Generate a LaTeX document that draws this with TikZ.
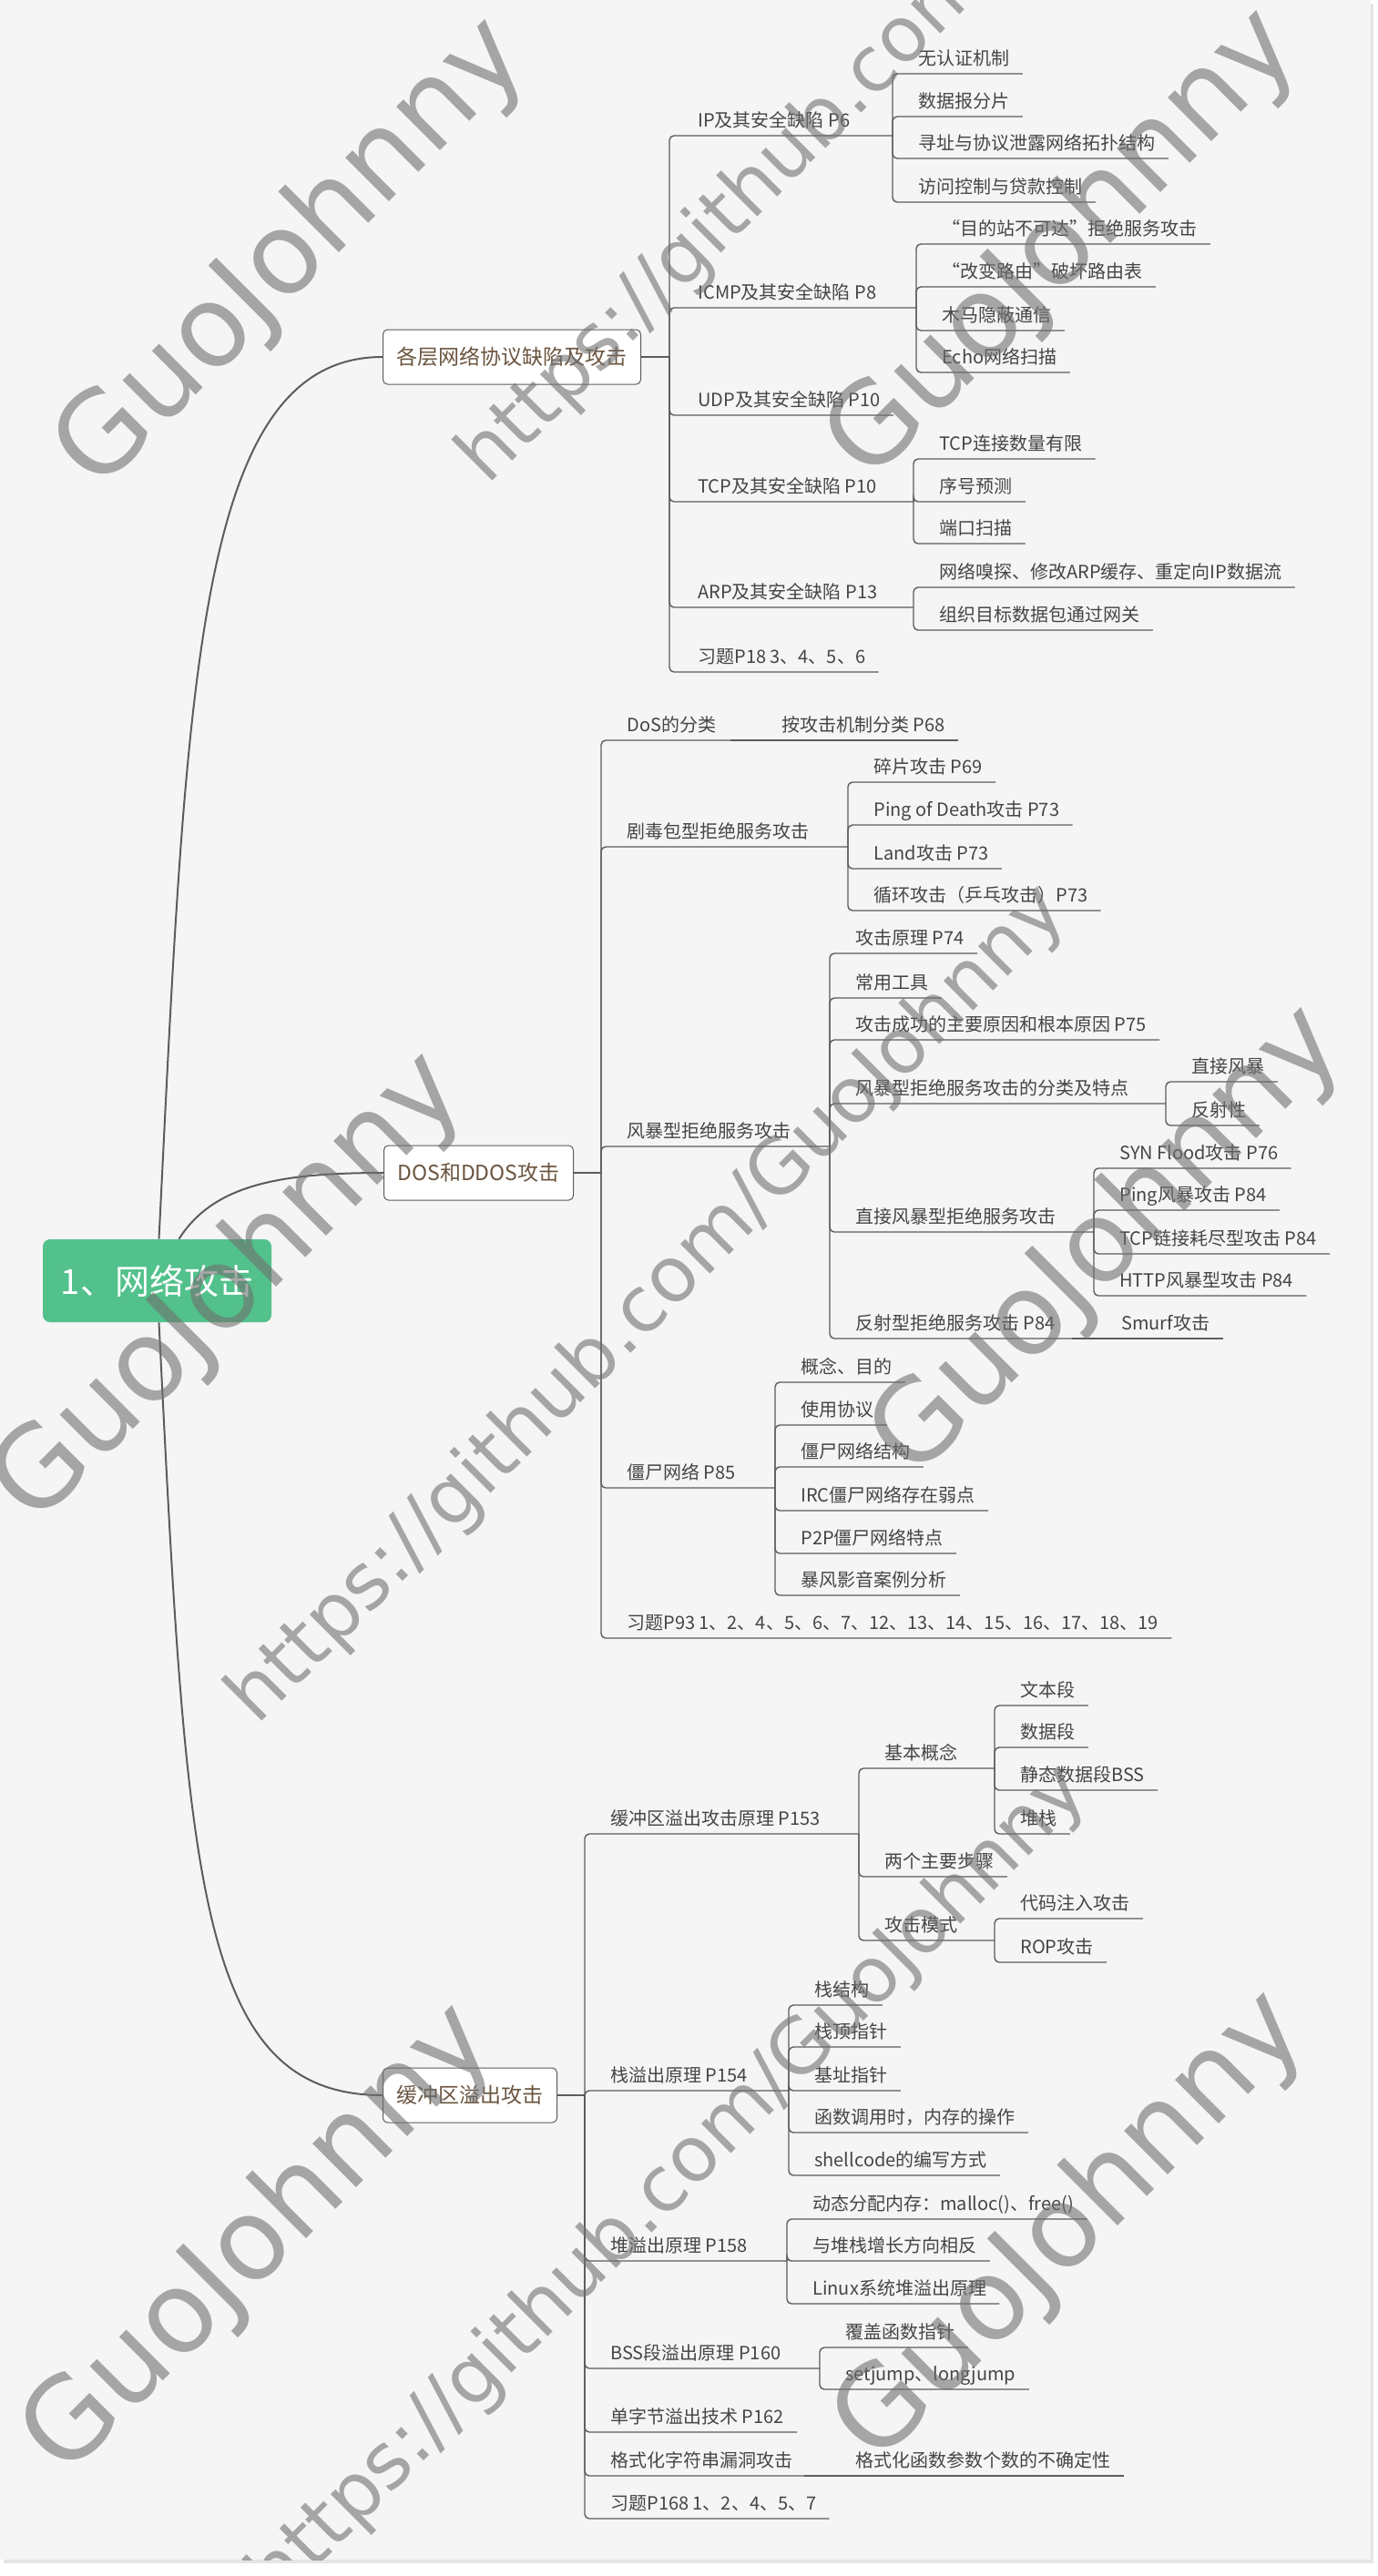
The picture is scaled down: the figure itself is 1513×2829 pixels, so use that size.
\documentclass[tikz,border=0pt]{standalone}
\usepackage{fontspec}
\setmainfont{Noto Sans CJK SC}
\newfontfamily\wmfont{DejaVu Sans}
\usetikzlibrary{calc}
\definecolor{pagebg}{HTML}{F5F5F5}
\definecolor{linegray}{HTML}{5C5C5C}
\definecolor{txtgray}{HTML}{454545}
\definecolor{boxbrown}{HTML}{6B5540}
\definecolor{rootgreen}{HTML}{52C18B}
\definecolor{wmgray}{HTML}{707070}

\begin{document}
\begin{tikzpicture}[
    x=0.5pt, y=-0.5pt,
    rootbox/.style={fill=rootgreen, rounded corners=4pt, text=white, font=\fontsize{19}{23}\selectfont, minimum width=125.5pt, minimum height=45.5pt},
    mainbox/.style={draw=linegray, fill=white, line width=0.5pt, rounded corners=2.5pt, anchor=west, text=boxbrown, font=\fontsize{11.5}{14}\selectfont, minimum height=30pt, inner xsep=7.5pt},
    topic/.style={anchor=south west, inner xsep=7pt, inner ysep=0pt, text height=8pt, text depth=4.5pt, text=txtgray, font=\fontsize{10}{12}\selectfont},
    link/.style={draw=linegray, line width=0.7pt, rounded corners=2.5pt},
    branch/.style={draw=linegray, line width=1pt},
    wmark/.style={text=wmgray, text opacity=0.6, rotate=45, font=\wmfont\fontsize{62}{70}\selectfont},
    wmurl/.style={wmark, font=\wmfont\fontsize{42}{50}\selectfont}
]
    \useasboundingbox (0,0) rectangle (1513,2829);
    \fill [black!10] (4,4) rectangle (1508,2815);
    \fill [pagebg] (0,0) rectangle (1505,2811);

    % root and main topics
    \node [rootbox] (root) at (172.5,1406.5) {1、网络攻击};
    \node [mainbox] (sec1) at (420,392) {各层网络协议缺陷及攻击};
    \node [mainbox] (sec2) at (421,1288) {DOS和DDOS攻击};
    \node [mainbox] (sec3) at (420,2301) {缓冲区溢出攻击};

    \draw [branch] ([xshift=1pt]root.north) .. controls (205,750) and (215,392) .. (sec1.west);
    \draw [branch] ([xshift=12pt]root.north) .. controls (235,1300) and (310,1288) .. (sec2.west);
    \draw [branch] ([xshift=1pt]root.south) .. controls (205,2060) and (215,2301) .. (sec3.west);

    % protocol flaws
    \coordinate (t1) at (735,392);
    \coordinate (ipt) at (980,149);
    \coordinate (icmpt) at (1006,338);
    \coordinate (tcpt) at (1003,551);
    \coordinate (arpt) at (1003,667);
    \node [topic] (ip) at (752,149) {IP及其安全缺陷 P6};
    \node [topic] (icmp) at (752,338) {ICMP及其安全缺陷 P8};
    \node [topic] (udp) at (752,456) {UDP及其安全缺陷 P10};
    \node [topic] (tcp) at (752,551) {TCP及其安全缺陷 P10};
    \node [topic] (arp) at (752,667) {ARP及其安全缺陷 P13};
    \node [topic] (ex1) at (752,738) {习题P18 3、4、5、6};
    \node [topic] (ip1) at (994,81) {无认证机制};
    \node [topic] (ip2) at (994,128) {数据报分片};
    \node [topic] (ip3) at (994,174) {寻址与协议泄露网络拓扑结构};
    \node [topic] (ip4) at (994,222) {访问控制与贷款控制};
    \node [topic] (icmp1) at (1020,268) {“目的站不可达”拒绝服务攻击};
    \node [topic] (icmp2) at (1020,315) {“改变路由”破坏路由表};
    \node [topic] (icmp3) at (1020,363) {木马隐蔽通信};
    \node [topic] (icmp4) at (1020,409) {Echo网络扫描};
    \node [topic] (tcp1) at (1017,504) {TCP连接数量有限};
    \node [topic] (tcp2) at (1017,551) {序号预测};
    \node [topic] (tcp3) at (1017,597) {端口扫描};
    \node [topic] (arp1) at (1017,645) {网络嗅探、修改ARP缓存、重定向IP数据流};
    \node [topic] (arp2) at (1017,692) {组织目标数据包通过网关};

    \draw [link] (sec1.east) -- (t1);
    \draw [link] (t1) |- (ipt);
    \draw [link] (t1) |- (icmpt);
    \draw [link] (t1) |- (udp.south east);
    \draw [link] (t1) |- (tcpt);
    \draw [link] (t1) |- (arpt);
    \draw [link] (t1) |- (ex1.south east);
    \draw [link] (ipt) |- (ip1.south east);
    \draw [link] (ipt) |- (ip2.south east);
    \draw [link] (ipt) |- (ip3.south east);
    \draw [link] (ipt) |- (ip4.south east);
    \draw [link] (icmpt) |- (icmp1.south east);
    \draw [link] (icmpt) |- (icmp2.south east);
    \draw [link] (icmpt) |- (icmp3.south east);
    \draw [link] (icmpt) |- (icmp4.south east);
    \draw [link] (tcpt) |- (tcp1.south east);
    \draw [link] (tcpt) |- (tcp2.south east);
    \draw [link] (tcpt) |- (tcp3.south east);
    \draw [link] (arpt) |- (arp1.south east);
    \draw [link] (arpt) |- (arp2.south east);

    % DoS and DDoS
    \coordinate (t2) at (660,1288);
    \coordinate (dost) at (802,813);
    \coordinate (poisont) at (931,930);
    \coordinate (stormt) at (911,1259);
    \coordinate (s4t) at (1280,1212);
    \coordinate (s5t) at (1201,1353);
    \coordinate (s6t) at (1177,1470);
    \coordinate (bott) at (851,1634);
    \node [topic] (dos) at (674,813) {DoS的分类};
    \node [topic] (dos1) at (844,813) {按攻击机制分类 P68};
    \node [topic] (poison) at (674,930) {剧毒包型拒绝服务攻击};
    \node [topic] (p1) at (945,859) {碎片攻击 P69};
    \node [topic] (p2) at (945,906) {Ping of Death攻击 P73};
    \node [topic] (p3) at (945,954) {Land攻击 P73};
    \node [topic] (p4) at (945,1000) {循环攻击（乒乓攻击）P73};
    \node [topic] (storm) at (674,1259) {风暴型拒绝服务攻击};
    \node [topic] (s1) at (925,1047) {攻击原理 P74};
    \node [topic] (s2) at (925,1096) {常用工具};
    \node [topic] (s3) at (925,1142) {攻击成功的主要原因和根本原因 P75};
    \node [topic] (s4) at (925,1212) {风暴型拒绝服务攻击的分类及特点};
    \node [topic] (s41) at (1294,1188) {直接风暴};
    \node [topic] (s42) at (1294,1236) {反射性};
    \node [topic] (s5) at (925,1353) {直接风暴型拒绝服务攻击};
    \node [topic] (s51) at (1215,1283) {SYN Flood攻击 P76};
    \node [topic] (s52) at (1215,1329) {Ping风暴攻击 P84};
    \node [topic] (s53) at (1215,1377) {TCP链接耗尽型攻击 P84};
    \node [topic] (s54) at (1215,1423) {HTTP风暴型攻击 P84};
    \node [topic] (s6) at (925,1470) {反射型拒绝服务攻击 P84};
    \node [topic] (s61) at (1217,1470) {Smurf攻击};
    \node [topic] (bot) at (674,1634) {僵尸网络 P85};
    \node [topic] (b1) at (865,1518) {概念、目的};
    \node [topic] (b2) at (865,1565) {使用协议};
    \node [topic] (b3) at (865,1611) {僵尸网络结构};
    \node [topic] (b4) at (865,1659) {IRC僵尸网络存在弱点};
    \node [topic] (b5) at (865,1706) {P2P僵尸网络特点};
    \node [topic] (b6) at (865,1752) {暴风影音案例分析};
    \node [topic] (ex2) at (674,1799) {习题P93 1、2、4、5、6、7、12、13、14、15、16、17、18、19};

    \draw [link] (sec2.east) -- (t2);
    \draw [link] (t2) |- (dost);
    \draw [link] (t2) |- (poisont);
    \draw [link] (t2) |- (stormt);
    \draw [link] (t2) |- (bott);
    \draw [link] (t2) |- (ex2.south east);
    \draw [link] (dost) -- (dos1.south east);
    \draw [link] (poisont) |- (p1.south east);
    \draw [link] (poisont) |- (p2.south east);
    \draw [link] (poisont) |- (p3.south east);
    \draw [link] (poisont) |- (p4.south east);
    \draw [link] (stormt) |- (s1.south east);
    \draw [link] (stormt) |- (s2.south east);
    \draw [link] (stormt) |- (s3.south east);
    \draw [link] (stormt) |- (s4t);
    \draw [link] (stormt) |- (s5t);
    \draw [link] (stormt) |- (s6t);
    \draw [link] (s4t) |- (s41.south east);
    \draw [link] (s4t) |- (s42.south east);
    \draw [link] (s5t) |- (s51.south east);
    \draw [link] (s5t) |- (s52.south east);
    \draw [link] (s5t) |- (s53.south east);
    \draw [link] (s5t) |- (s54.south east);
    \draw [link] (s6t) -- (s61.south east);
    \draw [link] (bott) |- (b1.south east);
    \draw [link] (bott) |- (b2.south east);
    \draw [link] (bott) |- (b3.south east);
    \draw [link] (bott) |- (b4.south east);
    \draw [link] (bott) |- (b5.south east);
    \draw [link] (bott) |- (b6.south east);

    % buffer overflow
    \coordinate (t3) at (642,2301);
    \coordinate (boft) at (943,2014);
    \coordinate (basict) at (1092,1942);
    \coordinate (modet) at (1092,2131);
    \coordinate (stkt) at (866,2296);
    \coordinate (heapt) at (864,2483);
    \coordinate (bsst) at (900,2601);
    \coordinate (fmtt) at (883,2719);
    \node [topic] (bof) at (656,2014) {缓冲区溢出攻击原理 P153};
    \node [topic] (basic) at (957,1942) {基本概念};
    \node [topic] (bc1) at (1106,1873) {文本段};
    \node [topic] (bc2) at (1106,1919) {数据段};
    \node [topic] (bc3) at (1106,1966) {静态数据段BSS};
    \node [topic] (bc4) at (1106,2014) {堆栈};
    \node [topic] (steps) at (957,2061) {两个主要步骤};
    \node [topic] (mode) at (957,2131) {攻击模式};
    \node [topic] (mode1) at (1106,2107) {代码注入攻击};
    \node [topic] (mode2) at (1106,2155) {ROP攻击};
    \node [topic] (stk) at (656,2296) {栈溢出原理 P154};
    \node [topic] (k1) at (880,2202) {栈结构};
    \node [topic] (k2) at (880,2248) {栈顶指针};
    \node [topic] (k3) at (880,2296) {基址指针};
    \node [topic] (k4) at (880,2342) {函数调用时，内存的操作};
    \node [topic] (k5) at (880,2389) {shellcode的编写方式};
    \node [topic] (heap) at (656,2483) {堆溢出原理 P158};
    \node [topic] (h1) at (878,2437) {动态分配内存：malloc()、free()};
    \node [topic] (h2) at (878,2483) {与堆栈增长方向相反};
    \node [topic] (h3) at (878,2530) {Linux系统堆溢出原理};
    \node [topic] (bss) at (656,2601) {BSS段溢出原理 P160};
    \node [topic] (bss1) at (914,2578) {覆盖函数指针};
    \node [topic] (bss2) at (914,2624) {setjump、longjump};
    \node [topic] (one) at (656,2671) {单字节溢出技术 P162};
    \node [topic] (fmt) at (656,2719) {格式化字符串漏洞攻击};
    \node [topic] (fmt1) at (925,2719) {格式化函数参数个数的不确定性};
    \node [topic] (ex3) at (656,2766) {习题P168 1、2、4、5、7};

    \draw [link] (sec3.east) -- (t3);
    \draw [link] (t3) |- (boft);
    \draw [link] (t3) |- (stkt);
    \draw [link] (t3) |- (heapt);
    \draw [link] (t3) |- (bsst);
    \draw [link] (t3) |- (one.south east);
    \draw [link] (t3) |- (fmtt);
    \draw [link] (t3) |- (ex3.south east);
    \draw [link] (boft) |- (basict);
    \draw [link] (boft) |- (steps.south east);
    \draw [link] (boft) |- (modet);
    \draw [link] (basict) |- (bc1.south east);
    \draw [link] (basict) |- (bc2.south east);
    \draw [link] (basict) |- (bc3.south east);
    \draw [link] (basict) |- (bc4.south east);
    \draw [link] (modet) |- (mode1.south east);
    \draw [link] (modet) |- (mode2.south east);
    \draw [link] (stkt) |- (k1.south east);
    \draw [link] (stkt) |- (k2.south east);
    \draw [link] (stkt) |- (k3.south east);
    \draw [link] (stkt) |- (k4.south east);
    \draw [link] (stkt) |- (k5.south east);
    \draw [link] (heapt) |- (h1.south east);
    \draw [link] (heapt) |- (h2.south east);
    \draw [link] (heapt) |- (h3.south east);
    \draw [link] (bsst) |- (bss1.south east);
    \draw [link] (bsst) |- (bss2.south east);
    \draw [link] (fmtt) -- (fmt1.south east);

    % watermark
    \begin{scope}
        \clip (0,0) rectangle (1505,2811);
        \node [wmark] (wm1) at (321,280) {GuoJohnny};
        \node [wmurl] (wm2) at (965,72) {https://github.com/GuoJohnny};
        \node [wmark] (wm3) at (1168,270) {GuoJohnny};
        \node [wmark] (wm4) at (252,1416) {GuoJohnny};
        \node [wmurl] (wm5) at (712,1434) {https://github.com/GuoJohnny};
        \node [wmark] (wm6) at (1217,1365) {GuoJohnny};
        \node [wmark] (wm7) at (285,2461) {GuoJohnny};
        \node [wmurl] (wm8) at (735,2400) {https://github.com/GuoJohnny};
        \node [wmark] (wm9) at (1176,2447) {GuoJohnny};
    \end{scope}
\end{tikzpicture}
\end{document}
